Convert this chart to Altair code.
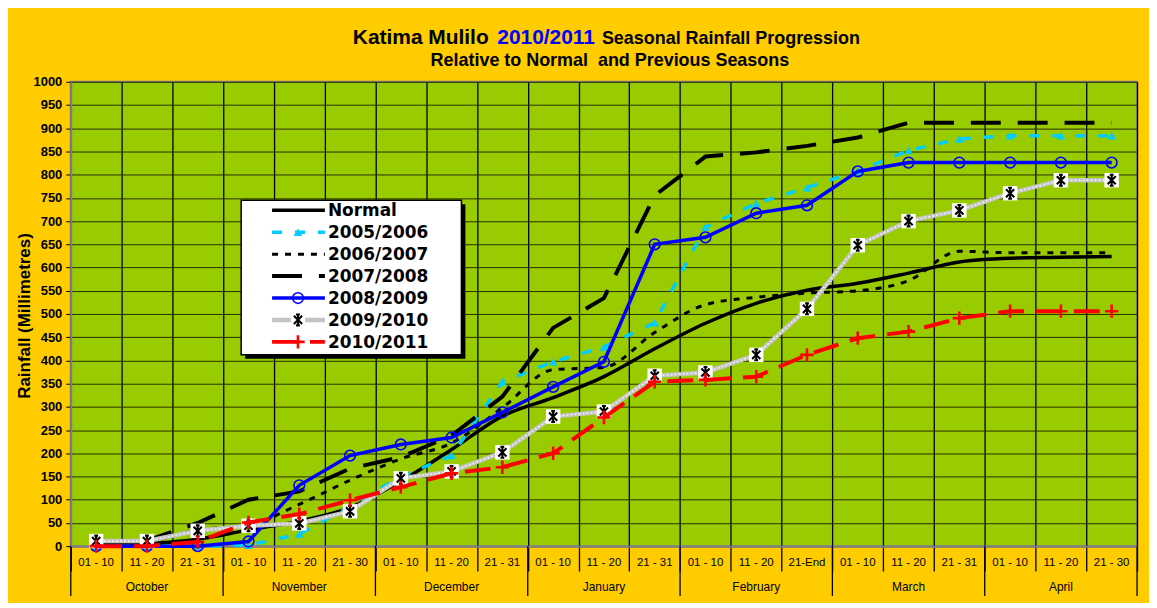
import altair as alt
import pandas as pd

# ---------------- data ----------------
dekads = ["01 - 10", "11 - 20", "21 - 31",
          "01 - 10", "11 - 20", "21 - 30",
          "01 - 10", "11 - 20", "21 - 31",
          "01 - 10", "11 - 20", "21 - 31",
          "01 - 10", "11 - 20", "21-End",
          "01 - 10", "11 - 20", "21 - 31",
          "01 - 10", "11 - 20", "21 - 30"]
months = ["October", "November", "December", "January", "February", "March", "April"]

normal = [0, 5, 15, 35, 54, 83, 140, 208, 280, 320, 365, 425, 480, 523, 551, 566, 588, 612, 620, 622, 624]
s2005_2006 = [0, 0, 0, 2, 26, 85, 150, 195, 354, 397, 429, 481, 687, 738, 772, 808, 852, 877, 884, 884, 884]
s2006_2007 = [5, 10, 35, 45, 90, 142, 188, 222, 298, 380, 385, 460, 520, 536, 545, 550, 572, 635, 632, 632, 632]
s2007_2008 = [5, 12, 50, 100, 118, 167, 192, 238, 322, 470, 534, 755, 839, 848, 862, 880, 912, 912, 912, 912, 912]
s2008_2009 = [0, 0, 0, 10, 131, 195, 219, 234, 288, 343, 397, 650, 665, 717, 734, 807, 826, 826, 826, 826, 826]
s2009_2010 = [11, 11, 33, 44, 49, 75, 146, 161, 202, 279, 290, 367, 374, 412, 511, 648, 700, 723, 760, 788, 788]
s2010_2011 = [0, 0, 9, 51, 69, 99, 127, 157, 170, 200, 277, 354, 358, 365, 412, 448, 462, 491, 506, 506, 506]

series_names = ["Normal", "2005/2006", "2006/2007", "2007/2008", "2008/2009", "2009/2010", "2010/2011"]
series_values = [normal, s2005_2006, s2006_2007, s2007_2008, s2008_2009, s2009_2010, s2010_2011]

# ---------------- tables ----------------
rows = []
for name, vals in zip(series_names, series_values):
    for i, v in enumerate(vals):
        rows.append({"series": name, "pos": i + 0.5, "value": v})
df = pd.DataFrame(rows)

dek_df = pd.DataFrame({"pos": [i + 0.5 for i in range(len(dekads))], "label": dekads})
mon_df = pd.DataFrame({"pos": [m * 3 + 1.5 for m in range(len(months))], "label": months})
sep_df = pd.DataFrame({"start": [m * 3 for m in range(len(months) + 1)]})
one = pd.DataFrame({"a": [0]})

W, H = 1070, 466
FONT = "Liberation Sans"

x_scale = alt.Scale(domain=[0, 21], nice=False, zero=False)
y_scale = alt.Scale(domain=[0, 1000], nice=False)

x_axis = alt.Axis(values=list(range(22)), labels=False, grid=True, gridColor="#000000",
                  gridWidth=1.3, gridOpacity=1, ticks=True, tickSize=25, tickColor="#000000",
                  tickWidth=1.3, domain=True, domainColor="#808080", domainWidth=2, title=None)
y_axis = alt.Axis(values=list(range(0, 1001, 50)), format="d", grid=True, gridColor="#263000",
                  gridWidth=1, gridOpacity=1, labelFont=FONT, labelFontWeight="bold",
                  labelFontSize=13, labelColor="#000000", tickSize=5, tickColor="#000000",
                  labelPadding=4, domain=True, domainColor="#808080", domainWidth=2, title=None)

def X(field):
    return alt.X(field, type="quantitative", scale=x_scale, axis=x_axis)

def Y(field):
    return alt.Y(field, type="quantitative", scale=y_scale, axis=y_axis)

styles = {
    "Normal":    dict(color="#000000", width=3.5, dash=None, interp="monotone"),
    "2005/2006": dict(color="#00CCFF", width=3.5, dash=[10, 13], interp="linear"),
    "2006/2007": dict(color="#000000", width=3, dash=[6, 7], interp="monotone"),
    "2007/2008": dict(color="#000000", width=4, dash=[30, 17], interp="linear"),
    "2008/2009": dict(color="#0000FF", width=3.5, dash=None, interp="linear"),
    "2009/2010": dict(color="#C4C4C4", width=4.5, dash=None, interp="linear"),
    "2010/2011": dict(color="#FF0000", width=4, dash=[26, 12], interp="linear"),
}

ASTER = "M0,-1L0,1M-0.75,-0.75L0.75,0.75M-0.75,0.75L0.75,-0.75M-0.35,-1L0.35,-1M-0.35,1L0.35,1"
PLUS = "M-1,0L1,0M0,-1L0,1"

def marker_layers(name, data, xenc, yenc):
    """Return marker layers for a series."""
    out = []
    if name == "2005/2006":
        out.append(alt.Chart(data).mark_point(shape="triangle-up", filled=True, color="#00CCFF",
                                              size=75, opacity=1).encode(x=xenc, y=yenc))
    elif name == "2008/2009":
        out.append(alt.Chart(data).mark_point(shape="circle", filled=False, stroke="#0000FF",
                                              strokeWidth=1.6, size=115, opacity=1).encode(x=xenc, y=yenc))
    elif name == "2009/2010":
        out.append(alt.Chart(data).mark_square(size=210, color="#FFFFFF", opacity=1).encode(x=xenc, y=yenc))
        out.append(alt.Chart(data).mark_point(shape=ASTER, filled=False, stroke="#000000",
                                              strokeWidth=2.1, size=120, opacity=1).encode(x=xenc, y=yenc))
    elif name == "2010/2011":
        out.append(alt.Chart(data).mark_point(shape=PLUS, filled=False, stroke="#FF0000",
                                              strokeWidth=2.6, size=180, opacity=1).encode(x=xenc, y=yenc))
    return out

layers = []

# month separators extending below the plot
layers.append(alt.Chart(sep_df).mark_rule(color="#000000", strokeWidth=1.3).encode(
    x=X("start"), y=alt.value(H), y2=alt.value(H + 50)))

# data lines
for name in series_names:
    st = styles[name]
    sub = df[df["series"] == name]
    kw = dict(color=st["color"], strokeWidth=st["width"], interpolate=st["interp"])
    if st["dash"]:
        kw["strokeDash"] = st["dash"]
    layers.append(alt.Chart(sub).mark_line(**kw).encode(x=X("pos"), y=Y("value")))
    if name == "2009/2010":
        layers.append(alt.Chart(sub).mark_line(color="#F2F2F2", strokeWidth=1.4,
                                               strokeDash=[2, 2]).encode(x=X("pos"), y=Y("value")))
    layers.extend(marker_layers(name, sub, X("pos"), Y("value")))

# axis labels
layers.append(alt.Chart(dek_df).mark_text(font=FONT, fontSize=11.5, color="#000000",
                                          baseline="middle").encode(
    x=X("pos"), y=alt.value(H + 17), text="label:N"))
layers.append(alt.Chart(mon_df).mark_text(font=FONT, fontSize=12, color="#000000",
                                          baseline="middle").encode(
    x=X("pos"), y=alt.value(H + 41), text="label:N"))

# y title
layers.append(alt.Chart(one).mark_text(font=FONT, fontSize=17, fontWeight="bold", color="#000000",
                                       angle=270, baseline="middle", align="center").encode(
    x=alt.value(-46), y=alt.value(235), text=alt.value("Rainfall (Millimetres)")))

# titles
layers.append(alt.Chart(one).mark_text(font=FONT, fontSize=21, fontWeight="bold", color="#000000",
                                       align="left", baseline="middle").encode(
    x=alt.value(283), y=alt.value(-44), text=alt.value("Katima Mulilo")))
layers.append(alt.Chart(one).mark_text(font=FONT, fontSize=21, fontWeight="bold", color="#0000FF",
                                       align="left", baseline="middle").encode(
    x=alt.value(428), y=alt.value(-44), text=alt.value("2010/2011")))
layers.append(alt.Chart(one).mark_text(font=FONT, fontSize=18, fontWeight="bold", color="#000000",
                                       align="left", baseline="middle").encode(
    x=alt.value(533), y=alt.value(-43), text=alt.value("Seasonal Rainfall Progression")))
layers.append(alt.Chart(one).mark_text(font=FONT, fontSize=18, fontWeight="bold", color="#000000",
                                       align="center", baseline="middle").encode(
    x=alt.value(541), y=alt.value(-21), text=alt.value("Relative to Normal \u00a0and Previous Seasons")))

# legend
LX0, LX1, LY0, LY1 = 171, 392, 119, 274
layers.append(alt.Chart(one).mark_rect(color="#000000").encode(
    x=alt.value(LX0 + 4), x2=alt.value(LX1 + 4), y=alt.value(LY0 + 4), y2=alt.value(LY1 + 4)))
layers.append(alt.Chart(one).mark_rect(fill="#FFFFFF", stroke="#000000", strokeWidth=1.5).encode(
    x=alt.value(LX0), x2=alt.value(LX1), y=alt.value(LY0), y2=alt.value(LY1)))
for i, name in enumerate(series_names):
    st = styles[name]
    ry = 129 + 22 * i
    kw = dict(color=st["color"], strokeWidth=st["width"])
    if st["dash"]:
        kw["strokeDash"] = st["dash"]
    layers.append(alt.Chart(one).mark_rule(**kw).encode(
        x=alt.value(202), x2=alt.value(255), y=alt.value(ry)))
    layers.extend(marker_layers(name, one, alt.value(228), alt.value(ry)))
    layers.append(alt.Chart(one).mark_text(font="DejaVu Sans", fontSize=17, fontWeight="bold",
                                           color="#000000", align="left", baseline="middle").encode(
        x=alt.value(258), y=alt.value(ry + 1), text=alt.value(name)))

chart = alt.layer(*layers).properties(
    width=W, height=H,
    padding={"left": 63, "top": 73, "right": 12, "bottom": 56},
    autosize=alt.AutoSizeParams(type="none"),
).configure(background="#FFCC00").configure_view(fill="#99CC00", stroke="#808080", strokeWidth=2)

chart.save("out.html", embed_options={"renderer": "svg", "actions": False})
